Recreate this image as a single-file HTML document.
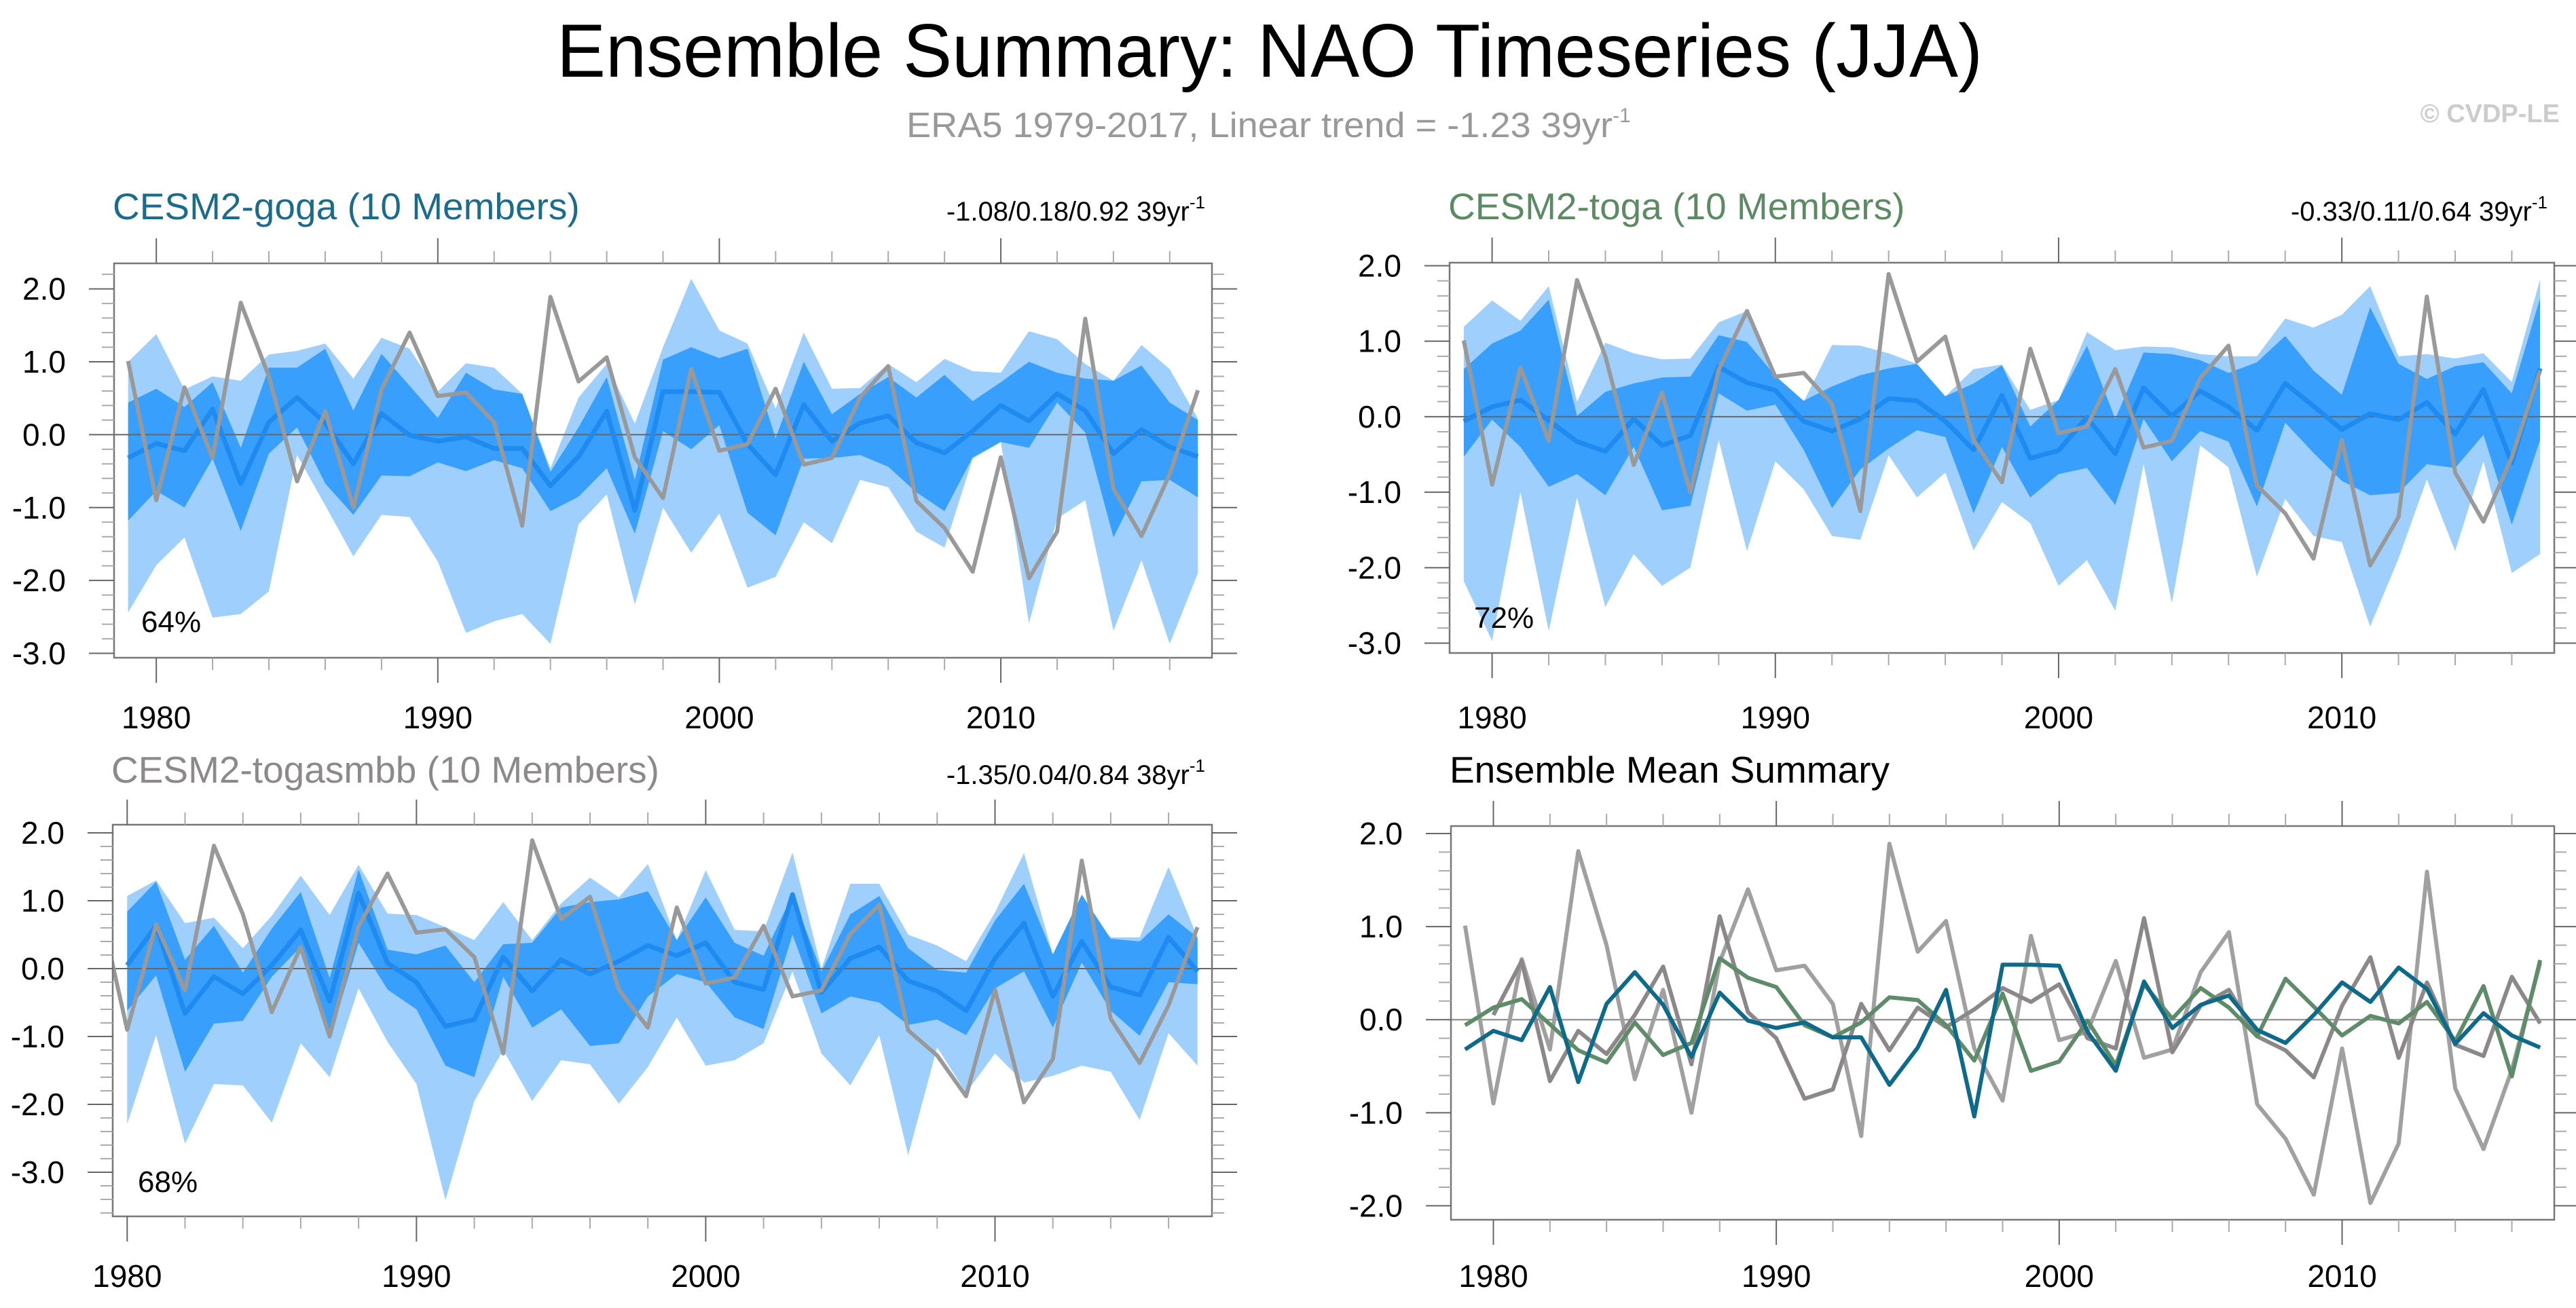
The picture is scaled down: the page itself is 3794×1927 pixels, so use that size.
<!DOCTYPE html>
<html><head><meta charset="utf-8"><title>Ensemble Summary: NAO Timeseries (JJA)</title>
<style>html,body{margin:0;padding:0;background:#fff}svg{display:block}text{font-family:"Liberation Sans",Arial,sans-serif}</style>
</head><body>
<svg id="chart" xmlns="http://www.w3.org/2000/svg" width="3794" height="1927" viewBox="0 0 3794 1927">
<rect width="3794" height="1927" fill="#fff"/>
<text x="1870" y="113" font-size="111" text-anchor="middle" textLength="2100" lengthAdjust="spacingAndGlyphs">Ensemble Summary: NAO Timeseries (JJA)</text>
<text x="1335" y="202" font-size="52" fill="#999"><tspan textLength="1040" lengthAdjust="spacingAndGlyphs">ERA5 1979-2017, Linear trend = -1.23 39yr</tspan><tspan font-size="30" dy="-22">-1</tspan></text>
<text x="3770" y="180" font-size="38" font-weight="bold" fill="#ccc" text-anchor="end">© CVDP-LE</text>
<g id="panels"></g>
</svg>
<script>
const years = [1979,1980,1981,1982,1983,1984,1985,1986,1987,1988,1989,1990,1991,1992,1993,1994,1995,1996,1997,1998,1999,2000,2001,2002,2003,2004,2005,2006,2007,2008,2009,2010,2011,2012,2013,2014,2015,2016,2017];
const obsERA5 = [1.01,-0.90,0.65,-0.32,1.81,0.80,-0.64,0.32,-1.00,0.62,1.40,0.53,0.58,0.17,-1.25,1.89,0.73,1.06,-0.31,-0.87,0.90,-0.22,-0.13,0.63,-0.41,-0.32,0.51,0.94,-0.91,-1.28,-1.88,-0.31,-1.97,-1.33,1.59,-0.74,-1.39,-0.54,0.61];

const gogaMean = [-0.32,-0.12,-0.22,0.35,-0.67,0.17,0.51,0.16,-0.40,0.29,-0.01,-0.09,-0.03,-0.19,-0.19,-0.70,-0.30,0.32,-1.04,0.59,0.59,0.58,-0.13,-0.55,0.41,-0.09,0.16,0.26,-0.11,-0.25,0.05,0.40,0.19,0.56,0.33,-0.26,0.07,-0.17,-0.30];
const gogaOuterHi = [1.0,1.38,0.62,0.8,0.74,1.1,1.15,1.25,0.77,1.33,1.18,0.59,0.98,0.92,0.56,-0.46,0.51,0.97,0.15,1.2,2.14,1.43,1.25,0.36,1.4,0.63,0.64,0.97,0.72,1.04,0.87,0.85,1.42,1.31,0.97,0.74,1.23,0.9,0.22];
const gogaOuterLo = [-2.44,-1.79,-1.41,-2.51,-2.46,-2.15,-0.28,-0.97,-1.67,-1.1,-1.13,-1.74,-2.72,-2.56,-2.46,-2.87,-1.23,-0.82,-2.33,-1.0,-1.62,-1.08,-2.1,-1.95,-1.2,-1.49,-0.62,-0.72,-1.33,-1.55,-0.33,-0.1,-2.59,-1.15,-0.9,-2.69,-1.72,-2.87,-1.9];
const gogaInnerHi = [0.44,0.63,0.38,0.72,-0.18,0.92,0.92,1.18,0.33,1.11,0.67,0.23,0.85,0.62,0.56,-0.51,0.1,0.79,-0.62,1.03,1.2,1.05,1.18,-0.05,1.0,0.28,0.56,0.79,0.51,0.82,0.46,0.72,1.0,0.85,0.77,0.74,0.95,0.44,0.2];
const gogaInnerLo = [-1.18,-0.77,-1.0,-0.33,-1.32,-0.26,0.1,-0.67,-1.1,-0.56,-0.57,-0.38,-0.5,-0.35,-0.46,-1.05,-0.85,-0.46,-1.36,0.05,-0.2,0.13,-1.07,-1.38,-0.33,-0.32,-0.28,-0.44,-0.79,-1.05,-0.31,-0.1,-0.18,0.44,0.03,-1.41,-0.64,-0.62,-0.86];

const togaMean = [-0.06,0.13,0.22,-0.05,-0.33,-0.46,-0.03,-0.38,-0.25,0.66,0.45,0.35,-0.06,-0.19,-0.03,0.24,0.21,-0.06,-0.44,0.28,-0.55,-0.45,-0.01,-0.49,0.38,0.01,0.34,0.13,-0.18,0.44,0.14,-0.17,0.04,-0.04,0.19,-0.23,0.36,-0.61,0.64];
const togaOuterHi = [1.19,1.54,1.27,1.73,0.2,0.98,0.84,0.76,0.77,1.25,1.40,0.54,0.2,0.95,0.94,0.84,0.7,0.27,0.63,0.69,0.09,0.22,1.12,0.88,0.93,0.92,0.83,0.8,0.8,1.30,1.18,1.35,1.73,0.8,0.83,0.77,0.84,0.46,1.82];
const togaOuterLo = [-2.18,-2.97,-1.0,-2.84,-1.07,-2.52,-1.82,-2.24,-2.0,-0.31,-1.78,-0.59,-0.96,-1.58,-1.63,-0.51,-1.07,-0.74,-1.77,-1.13,-1.41,-2.24,-1.90,-2.57,-0.63,-2.47,-0.38,-0.67,-2.12,-1.09,-1.58,-1.66,-2.78,-1.88,-0.83,-1.78,-0.59,-2.07,-1.82];
const togaInnerHi = [0.63,0.97,1.14,1.55,0.01,0.33,0.44,0.52,0.53,1.08,0.99,0.54,0.21,0.40,0.55,0.64,0.70,0.27,0.44,0.68,-0.13,0.22,0.94,-0.03,0.85,0.83,0.75,0.58,0.72,1.07,0.61,0.29,1.45,0.70,0.50,0.67,0.72,0.31,1.57];
const togaInnerLo = [-0.53,-0.04,-0.40,-0.93,-0.76,-1.04,-0.40,-1.24,-1.18,0.31,0.08,0.16,-0.44,-1.21,-0.70,-0.42,-0.18,-0.27,-1.28,-0.40,-1.07,-0.76,-0.68,-1.17,-0.03,-0.59,-0.19,-0.33,-1.19,-0.08,-0.48,-0.85,-1.04,-1.01,-0.63,-0.68,-0.24,-1.43,-0.31];

const smbbMean = [null,0.05,0.63,-0.66,-0.12,-0.37,0.05,0.57,-0.48,1.11,0.08,-0.2,-0.85,-0.75,0.17,-0.33,0.13,-0.08,0.11,0.34,0.19,0.38,-0.2,-0.31,1.09,-0.35,0.15,0.32,-0.18,-0.33,-0.62,0.15,0.67,-0.41,0.40,-0.27,-0.39,0.46,-0.04];
const smbbOuterHi = [null,1.07,1.30,0.67,0.75,0.30,0.78,1.37,0.79,1.53,0.81,0.79,0.61,0.42,0.98,0.42,0.96,1.34,1.05,1.54,0.42,1.45,0.57,0.55,1.71,0.0,1.25,1.25,0.50,0.34,0.11,0.83,1.70,0.21,0.94,0.46,0.46,1.50,0.46];
const smbbOuterLo = [null,-2.29,-0.98,-2.58,-1.70,-1.72,-2.27,-1.10,-1.60,-0.29,-1.08,-1.70,-3.41,-1.95,-1.20,-1.95,-1.35,-1.41,-1.99,-1.45,-0.72,-1.43,-1.35,-1.10,-0.04,-1.25,-1.72,-0.98,-2.75,-1.16,-1.83,-1.25,-1.68,-1.58,-1.43,-1.52,-2.23,-0.95,-1.43];
const smbbInnerHi = [null,0.84,1.28,0.13,0.63,-0.06,0.59,1.13,-0.14,1.46,0.28,0.21,0.34,-0.20,0.36,0.38,0.90,0.98,1.02,1.14,0.42,1.05,0.38,0.19,1.09,-0.04,0.80,1.07,0.30,-0.02,-0.06,0.71,1.25,0.21,1.09,0.44,0.40,0.80,0.46];
const smbbInnerLo = [null,-0.62,-0.10,-1.52,-0.81,-0.77,-0.12,0.32,-1.04,0.38,-0.31,-0.60,-1.43,-1.60,-0.12,-0.87,-0.60,-1.14,-1.10,-0.41,-0.08,-0.20,-0.72,-0.89,0.50,-0.66,-0.41,-0.50,-0.83,-0.75,-0.98,-0.29,-0.04,-0.87,0.09,-0.62,-0.99,-0.20,-0.23];

const xTickLabels = [1980,1990,2000,2010];
const yTickLabels3 = [2,1,0,-1,-2,-3];
const yTickLabels2 = [2,1,0,-1,-2];

const NS = 'http://www.w3.org/2000/svg';
const root = document.getElementById('panels');
function mk(tag, attrs, parent){const e=document.createElementNS(NS,tag);for(const k in attrs)e.setAttribute(k,attrs[k]);(parent||root).appendChild(e);return e;}
function scales(p){
  const sx=v=>p.x0+(v-p.xmin)/(p.xmax-p.xmin)*(p.x1-p.x0);
  const sy=v=>p.y0+(p.ymax-v)/(p.ymax-p.ymin)*(p.y1-p.y0);
  return [sx,sy];
}
function linePath(vals,sx,sy){
  let d='',pen=false;
  vals.forEach((v,i)=>{ if(v===null){pen=false;return;} d+=(pen?'L':'M')+sx(years[i]).toFixed(1)+' '+sy(v).toFixed(1)+' '; pen=true;});
  return d;
}
function bandPath(hi,lo,sx,sy){
  const idx=years.map((y,i)=>i).filter(i=>hi[i]!==null);
  let d='M';
  idx.forEach((i,k)=>{d+=(k?'L':'')+sx(years[i]).toFixed(1)+' '+sy(hi[i]).toFixed(1)+' ';});
  idx.slice().reverse().forEach(i=>{d+='L'+sx(years[i]).toFixed(1)+' '+sy(lo[i]).toFixed(1)+' ';});
  return d+'Z';
}
function axes(p,g,sx,sy,yLabels,xLabelY){
  const box=mk('rect',{x:p.x0,y:p.y0,width:p.x1-p.x0,height:p.y1-p.y0,fill:'none',stroke:'#777','stroke-width':2.5},g);
  
  
  for(let k=Math.ceil(p.ymin*5-1e-6);k<=Math.floor(p.ymax*5+1e-6);k++){
    const v=k/5, y=sy(v), major=(k%5===0), L=major?37:18;
    const col=major?'#666':'#aaa';
    const t1=mk('line',{x1:p.x0-L,x2:p.x0,y1:y,y2:y,stroke:col,'stroke-width':2},g);
    
    
    const t2=mk('line',{x1:p.x1,x2:p.x1+L,y1:y,y2:y,stroke:col,'stroke-width':2},g);
    
    
  }
  yLabels.forEach(v=>{
    const t=mk('text',{x:p.x0-71,y:sy(v)+16,'font-size':46,'text-anchor':'end'},g);
    t.textContent=v.toFixed(1);
    
    
  });
  for(let yr=1980; yr<=p.xmax; yr+=2){
    if(yr<p.xmin) continue;
    const x=sx(yr), major=(yr%10===0), L=major?37:18, col=major?'#666':'#aaa';
    const b=mk('line',{x1:x,x2:x,y1:p.y1,y2:p.y1+L,stroke:col,'stroke-width':2},g);
    
    
    const tp=mk('line',{x1:x,x2:x,y1:p.y0-L,y2:p.y0,stroke:col,'stroke-width':2},g);
    
    
  }
  xTickLabels.forEach(v=>{
    const t=mk('text',{x:sx(v),y:xLabelY+17,'font-size':46,'text-anchor':'middle'},g);
    t.textContent=String(v);
    
    
  });
}
function titleText(g,x,y,txt,col,name){
  const t=mk('text',{x:x,y:y,'font-size':55,fill:col},g);
  t.textContent=txt;
  
  
}
function statText(g,x,y,txt,sup,name){
  const t=mk('text',{x:x,y:y,'font-size':40,'text-anchor':'end'},g);
  const a=mk('tspan',{},t); a.textContent=txt;
  const b=mk('tspan',{'font-size':26,dy:-18},t); b.textContent=sup;
  
  
}

const panelDefs=[
  {id:'goga',x0:168,x1:1785,y0:388,y1:969,xmin:1978.5,xmax:2017.5,ymax:2.35,ymin:-3.06,mean:gogaMean,oh:gogaOuterHi,ol:gogaOuterLo,ih:gogaInnerHi,il:gogaInnerLo,
   title:'CESM2-goga (10 Members)',tcol:'#1b6c8c',ty:323,stat:'-1.08/0.18/0.92 39yr',pct:'64%',pctX:208,pctY:931,xl:1056},
  {id:'toga',x0:2135,x1:3762,y0:387,y1:962,xmin:1978.5,xmax:2017.5,ymax:2.04,ymin:-3.13,mean:togaMean,oh:togaOuterHi,ol:togaOuterLo,ih:togaInnerHi,il:togaInnerLo,
   title:'CESM2-toga (10 Members)',tcol:'#5b8a63',ty:323,stat:'-0.33/0.11/0.64 39yr',pct:'72%',pctX:2171,pctY:925,xl:1056},
  {id:'togasmbb',x0:166,x1:1785,y0:1215,y1:1792,xmin:1979.5,xmax:2017.5,ymax:2.12,ymin:-3.65,mean:smbbMean,oh:smbbOuterHi,ol:smbbOuterLo,ih:smbbInnerHi,il:smbbInnerLo,
   title:'CESM2-togasmbb (10 Members)',tcol:'#8d898a',ty:1153,stat:'-1.35/0.04/0.84 38yr',pct:'68%',pctX:203,pctY:1756,xl:1879}
];

panelDefs.forEach(p=>{
  const [sx,sy]=scales(p);
  const g=mk('g',{});
  
  
  const cp=mk('clipPath',{id:'clip-'+p.id},g);
  mk('rect',{x:p.x0,y:p.y0,width:p.x1-p.x0,height:p.y1-p.y0},cp);
  const inner=mk('g',{'clip-path':'url(#clip-'+p.id+')'},g);
  const ob=mk('path',{d:bandPath(p.oh,p.ol,sx,sy),fill:'#9fd0fd'},inner);
  
  
  const ib=mk('path',{d:bandPath(p.ih,p.il,sx,sy),fill:'#399ffd'},inner);
  
  
  const z=mk('line',{x1:p.x0,x2:p.x1,y1:sy(0),y2:sy(0),stroke:'#666','stroke-width':2},inner);
  
  
  const ml=mk('path',{d:linePath(p.mean,sx,sy),fill:'none',stroke:'#1f8aef','stroke-width':7,'stroke-linejoin':'round'},inner);
  
  
  const ol=mk('path',{d:linePath(obsERA5,sx,sy),fill:'none',stroke:'#999','stroke-width':6,'stroke-linejoin':'round'},inner);
  
  
  axes(p,g,sx,sy,yTickLabels3,p.xl);
  titleText(g,p.x0-2,p.ty,p.title,p.tcol,'panel-title');
  statText(g,p.x1-10,p.ty+2,p.stat,'-1','trend-stats');
  const pc=mk('text',{x:p.pctX,y:p.pctY,'font-size':44},g);
  pc.textContent=p.pct;
  
  
});

(function(){
  const p={x0:2137,x1:3762,y0:1217,y1:1797,xmin:1978.5,xmax:2017.5,ymax:2.08,ymin:-2.15};
  const [sx,sy]=scales(p);
  const g=mk('g',{});
  
  
  const z=mk('line',{x1:p.x0,x2:p.x1,y1:sy(0),y2:sy(0),stroke:'#999','stroke-width':2.5},g);
  
  
  const series=[[obsERA5,'#a0a0a0','era5-line'],[smbbMean,'#8c8789','togasmbb-mean-line'],[togaMean,'#5e8c68','toga-mean-line'],[gogaMean,'#0d6a8a','goga-mean-line']];
  series.forEach(s=>{
    const l=mk('path',{d:linePath(s[0],sx,sy),fill:'none',stroke:s[1],'stroke-width':6,'stroke-linejoin':'round'},g);
    
    
  });
  axes(p,g,sx,sy,yTickLabels2,1879);
  titleText(g,2135,1153,'Ensemble Mean Summary','#000','panel-title');
})();
</script>
</body></html>
